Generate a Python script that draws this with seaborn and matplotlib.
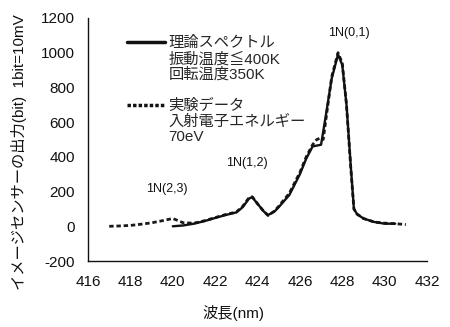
import numpy as np
import pandas as pd
import matplotlib
matplotlib.use("Agg")
import matplotlib.pyplot as plt
import seaborn as sns
from matplotlib.lines import Line2D

# ---- data ----
theory_x = [420.0, 420.5, 421.0, 421.5, 422.0, 422.5, 423.0, 423.3, 423.6, 423.75,
            424.0, 424.3, 424.5, 424.8, 425.0, 425.5, 426.0, 426.3, 426.6, 426.8,
            427.0, 427.2, 427.5, 427.8, 428.0, 428.2, 428.4, 428.55, 428.7, 429.0,
            429.5, 430.0, 430.5]
theory_y = [0, 5, 15, 30, 48, 65, 80, 110, 160, 168,
            130, 85, 65, 85, 110, 180, 300, 390, 460, 465,
            470, 620, 850, 990, 930, 700, 350, 100, 70, 45,
            25, 15, 15]

exp_x = [417.0, 417.5, 418.0, 418.5, 419.0, 419.5, 420.0, 420.3, 420.5, 421.0,
         421.5, 422.0, 422.5, 423.0, 423.3, 423.6, 423.75, 424.0, 424.3, 424.5,
         424.8, 425.0, 425.5, 426.0, 426.3, 426.6, 426.8, 427.0, 427.1, 427.3,
         427.5, 427.8, 428.0, 428.2, 428.4, 428.55, 428.7, 429.0, 429.5, 430.0,
         430.5, 431.0]
exp_y = [0, 2, 5, 12, 20, 32, 45, 30, 20, 18,
         32, 50, 68, 82, 115, 165, 170, 130, 85, 62,
         88, 115, 190, 310, 400, 470, 500, 510, 500, 680,
         860, 1000, 940, 700, 340, 100, 70, 45, 25, 18,
         15, 10]

xticks = [416, 418, 420, 422, 424, 426, 428, 430, 432]
yticks = [-200, 0, 200, 400, 600, 800, 1000, 1200]

theory_label = ["理論スペクトル", "振動温度≦400K", "回転温度350K"]
exp_label = ["実験データ", "入射電子エネルギー", "70eV"]
peak_labels = ["1N(0,1)", "1N(1,2)", "1N(2,3)"]
peak_pos = [(428.3, 1113), (423.5, 365), (419.7, 215)]

sns.set_theme(style="white")
plt.rcParams['font.family'] = ['Liberation Sans', 'Noto Sans CJK JP']
plt.rcParams['axes.unicode_minus'] = False

fig = plt.figure(figsize=(4.5, 3.27), dpi=100)
ax = fig.add_axes([0.1956, 0.2018, 0.9489 - 0.1956, 0.945 - 0.2018])

df_t = pd.DataFrame({"x": theory_x, "y": theory_y})
df_e = pd.DataFrame({"x": exp_x, "y": exp_y})
sns.lineplot(data=df_e, x="x", y="y", ax=ax, color="#1a1a1a", lw=2.0,
             linestyle=(0, (1.6, 1.0)))
sns.lineplot(data=df_t, x="x", y="y", ax=ax, color="#111111", lw=1.7)

ax.set_xlim(416, 432)
ax.set_ylim(-200, 1200)
ax.set_xticks(xticks)
ax.set_yticks(yticks)
ax.tick_params(axis="both", labelsize=11, colors="#111111", width=1.0,
               direction="inout")
ax.tick_params(axis="y", length=12, pad=3.5)
ax.tick_params(axis="x", length=10, pad=5)
for s in ["top", "right"]:
    ax.spines[s].set_visible(False)
for s in ["left", "bottom"]:
    ax.spines[s].set_color("#111111")
    ax.spines[s].set_linewidth(1.0)

ax.set_xlabel("波長(nm)", fontsize=11, color="#111111")
ax.xaxis.set_label_coords(0.43, -0.18)
ax.set_ylabel("イメージセンサーの出力(bit)  1bit=10mV", fontsize=11,
              color="#111111")
ax.yaxis.set_label_coords(-0.18, 0.449)

for lab, (px, py) in zip(peak_labels, peak_pos):
    ax.text(px, py, lab, fontsize=9, ha="center", va="center", color="#111111")

blank = Line2D([], [], alpha=0)
handles = [Line2D([], [], color="#111111", lw=2.5), blank, blank, blank,
           Line2D([], [], color="#111111", lw=2.5, linestyle=(0, (1, 0.6))), blank, blank]
labels = theory_label + [""] + exp_label
leg = ax.legend(handles, labels, loc="upper left", bbox_to_anchor=(0.115, 0.925),
                frameon=False, fontsize=11, handlelength=2.5, handletextpad=0.2,
                labelspacing=0.1, borderpad=0, borderaxespad=0)

fig.savefig("out.png", dpi=100)
